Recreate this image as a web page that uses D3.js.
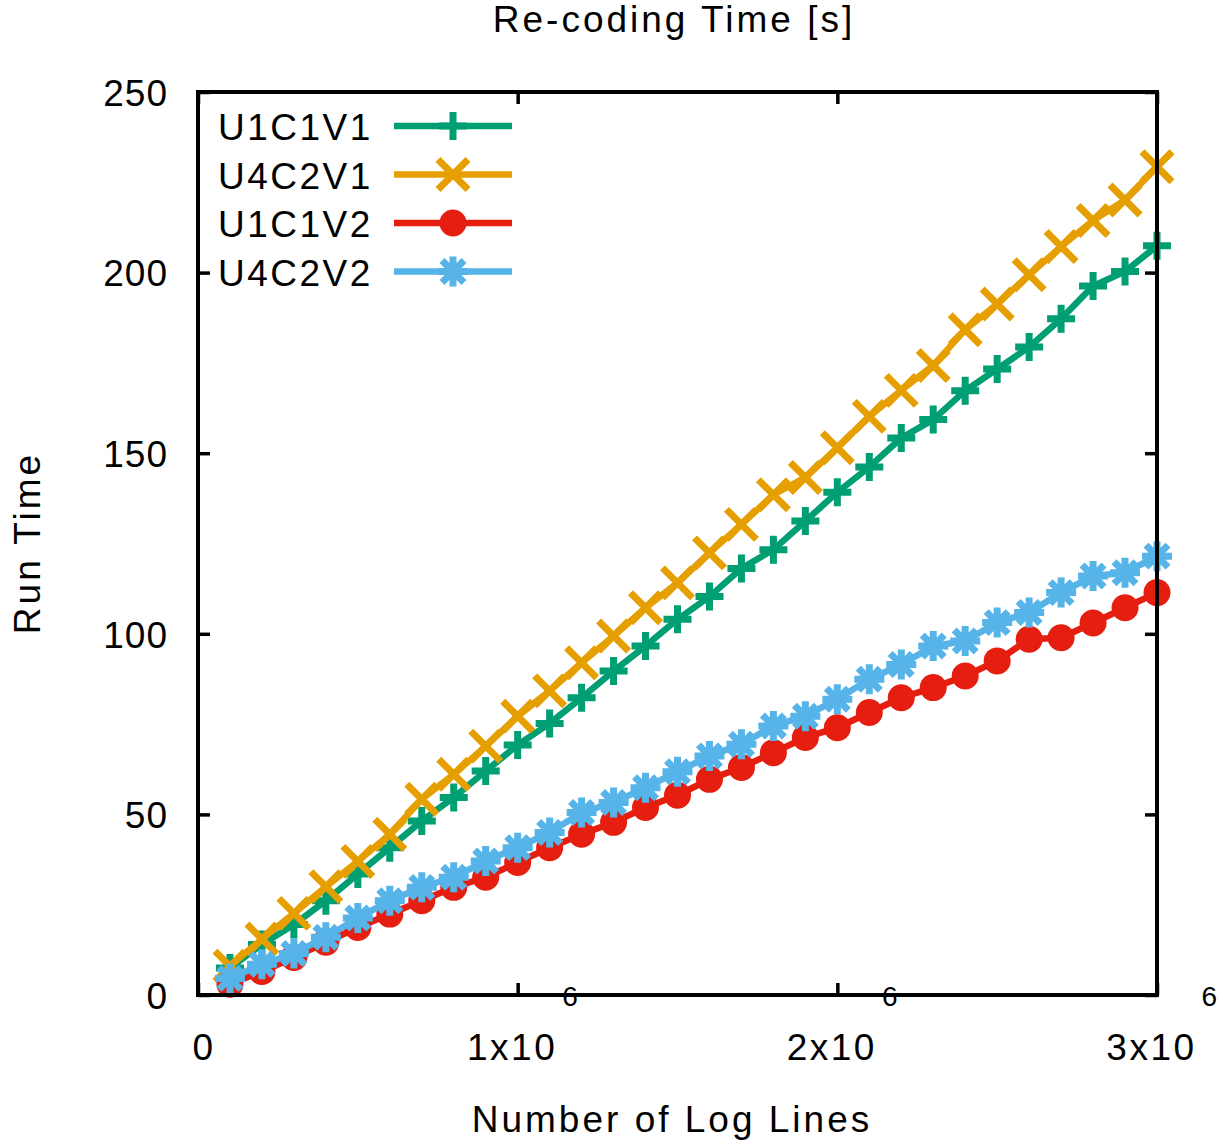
<!DOCTYPE html>
<html>
<head>
<meta charset="utf-8">
<script src="https://cdn.jsdelivr.net/npm/d3@7"></script>
<style>
  body { margin: 0; background: #fff; }
  text { font-family: "Liberation Sans", Arial, sans-serif; fill: #000; }
</style>
</head>
<body>
<div id="chart"></div>
<script>
// number of log lines (x) and run times (y) per configuration
const logLines = [100000, 200000, 300000, 400000, 500000, 600000, 700000, 800000, 900000, 1000000,
  1100000, 1200000, 1300000, 1400000, 1500000, 1600000, 1700000, 1800000, 1900000, 2000000,
  2100000, 2200000, 2300000, 2400000, 2500000, 2600000, 2700000, 2800000, 2900000, 3000000];

const u1c1v1 = [7.5, 14, 19.5, 26.1, 33.5, 40.8, 48.2, 54.7, 62, 69.2, 75.2, 82.3, 89.7, 96.6, 104,
  110.3, 118.1, 123.3, 131.2, 139.2, 146.2, 154.2, 159.3, 167.3, 173.3, 179.4, 187.2, 196.3, 200.3, 207.4];
const u4c2v1 = [8, 15.5, 22.6, 30, 37, 44.5, 54.2, 61.1, 68.9, 77.2, 84.2, 92, 99.4, 107.2, 114.1,
  122.4, 130.3, 138.5, 143.3, 151.5, 160.2, 167.4, 174.3, 184.2, 191.3, 199.4, 207.2, 214.4, 220.1, 229.3];
const u1c1v2 = [3, 6.5, 10.4, 14.6, 18.7, 22.4, 26.1, 29.8, 32.6, 36.7, 40.8, 44.5, 47.8, 51.9, 55.3,
  59.7, 63, 67.1, 71.3, 74, 78.2, 82.3, 85.1, 88.3, 92.5, 98.5, 98.9, 103, 107.2, 111.4];
const u4c2v2 = [4.6, 8.5, 11.5, 16, 21.3, 26.1, 29.8, 32.6, 37.1, 40.8, 45, 50.5, 53.3, 57.4, 61.8,
  66.2, 69.4, 74.5, 77.2, 81.9, 87.4, 91.5, 96.6, 98, 103.1, 105.9, 111.4, 116, 116.9, 121.5];

const seriesNames = ["U1C1V1", "U4C2V1", "U1C1V2", "U4C2V2"];
const seriesValues = [u1c1v1, u4c2v1, u1c1v2, u4c2v2];
const seriesColors = ["#009E73", "#E69F00", "#E51E10", "#56B4E9"];
const seriesMarkers = ["plus", "cross", "circle", "star"];

const yTicks = [0, 50, 100, 150, 200, 250];
const xTicks = [0, 1000000, 2000000, 3000000];
const xTickLabels = [["0", ""], ["1x10", "6"], ["2x10", "6"], ["3x10", "6"]];

const width = 1223;
const height = 1146;
const margin = { top: 92, right: 66, bottom: 151, left: 198 };

const svg = d3
  .select("#chart")
  .append("svg")
  .attr("width", width)
  .attr("height", height);

const xScale = d3
  .scaleLinear()
  .domain([0, 3000000])
  .range([margin.left, width - margin.right]);

const yScale = d3
  .scaleLinear()
  .domain([0, 250])
  .range([height - margin.bottom, margin.top]);

const fontSize = 37;

// ticks on all four sides, pointing inward
function styleAxis(g) {
  g.select(".domain").remove();
  g.selectAll(".tick line").attr("stroke", "#000").attr("stroke-width", 3.5);
}

svg
  .append("g")
  .attr("transform", `translate(${margin.left},0)`)
  .call(d3.axisLeft(yScale).tickValues(yTicks).tickSize(-12).tickPadding(30))
  .call(styleAxis)
  .call((g) =>
    g
      .selectAll("text")
      .attr("dy", "0.36em")
      .style("font-size", fontSize + "px")
      .style("letter-spacing", "1px")
      .style("font-family", '"Liberation Sans", Arial, sans-serif')
  );

svg
  .append("g")
  .attr("transform", `translate(${width - margin.right},0)`)
  .call(d3.axisRight(yScale).tickValues(yTicks).tickSize(-12).tickFormat(""))
  .call(styleAxis);

svg
  .append("g")
  .attr("transform", `translate(0,${height - margin.bottom})`)
  .call(d3.axisBottom(xScale).tickValues(xTicks).tickSize(-12).tickFormat(""))
  .call(styleAxis);

svg
  .append("g")
  .attr("transform", `translate(0,${margin.top})`)
  .call(d3.axisTop(xScale).tickValues(xTicks).tickSize(-12).tickFormat(""))
  .call(styleAxis);

// x tick labels, gnuplot style with the exponent floating up by the axis
const xLabels = svg.append("g");
xTicks.forEach((v, i) => {
  const [main, sup] = xTickLabels[i];
  const t = xLabels
    .append("text")
    .attr("x", xScale(v) + 6)
    .attr("y", height - margin.bottom + 65)
    .attr("text-anchor", "middle")
    .style("font-size", fontSize + "px")
    .style("letter-spacing", "2.5px");
  t.append("tspan").text(main);
  if (sup) {
    t.append("tspan")
      .attr("dx", 5)
      .attr("dy", -54)
      .style("font-size", "28px")
      .text(sup);
  }
});

// lines and markers
const line = d3
  .line()
  .x((d, i) => xScale(logLines[i]))
  .y((d) => yScale(d));

const markerPaths = {
  plus: "M-14,0H14M0,-14V14",
  cross: "M-15,-15L15,15M-15,15L15,-15",
  star: "M-15,0H15M0,-15V15M-11,-11L11,11M-11,11L11,-11",
};

function drawMarker(g, type, color) {
  if (type === "circle") {
    g.append("circle").attr("r", 13.5).attr("fill", color);
  } else {
    g.append("path")
      .attr("d", markerPaths[type])
      .attr("fill", "none")
      .attr("stroke", color)
      .attr("stroke-width", 7);
  }
}

seriesValues.forEach((values, s) => {
  const color = seriesColors[s];
  const g = svg.append("g").attr("class", "series");
  g.append("path")
    .datum(values)
    .attr("d", line)
    .attr("fill", "none")
    .attr("stroke", color)
    .attr("stroke-width", 6.5)
    .attr("stroke-linejoin", "round");

  g.selectAll(".pt")
    .data(values)
    .join("g")
    .attr("class", "pt")
    .attr("transform", (d, i) => `translate(${xScale(logLines[i])},${yScale(d)})`)
    .each(function () {
      drawMarker(d3.select(this), seriesMarkers[s], color);
    });
});

// legend
const legend = svg.append("g");
seriesNames.forEach((name, i) => {
  const rowY = 126 + i * 48.5;
  legend
    .append("text")
    .attr("x", 218)
    .attr("y", rowY + 14)
    .style("font-size", fontSize + "px")
    .style("letter-spacing", "2.5px")
    .text(name);
  legend
    .append("line")
    .attr("x1", 394)
    .attr("x2", 512)
    .attr("y1", rowY)
    .attr("y2", rowY)
    .attr("stroke", seriesColors[i])
    .attr("stroke-width", 6.5);
  const m = legend.append("g").attr("transform", `translate(453,${rowY})`);
  drawMarker(m, seriesMarkers[i], seriesColors[i]);
});

// frame on top of the data
svg
  .append("rect")
  .attr("x", margin.left)
  .attr("y", margin.top)
  .attr("width", width - margin.left - margin.right)
  .attr("height", height - margin.top - margin.bottom)
  .attr("fill", "none")
  .attr("stroke", "#000")
  .attr("stroke-width", 4);

// titles
svg
  .append("text")
  .attr("x", 674)
  .attr("y", 32)
  .attr("text-anchor", "middle")
  .style("font-size", fontSize + "px")
  .style("letter-spacing", "3px")
  .text("Re-coding Time [s]");

svg
  .append("text")
  .attr("x", 672)
  .attr("y", 1132)
  .attr("text-anchor", "middle")
  .style("font-size", fontSize + "px")
  .style("letter-spacing", "3px")
  .text("Number of Log Lines");

svg
  .append("text")
  .attr("transform", "translate(40,543) rotate(-90)")
  .attr("text-anchor", "middle")
  .style("font-size", fontSize + "px")
  .style("letter-spacing", "3px")
  .text("Run Time");
</script>
</body>
</html>
